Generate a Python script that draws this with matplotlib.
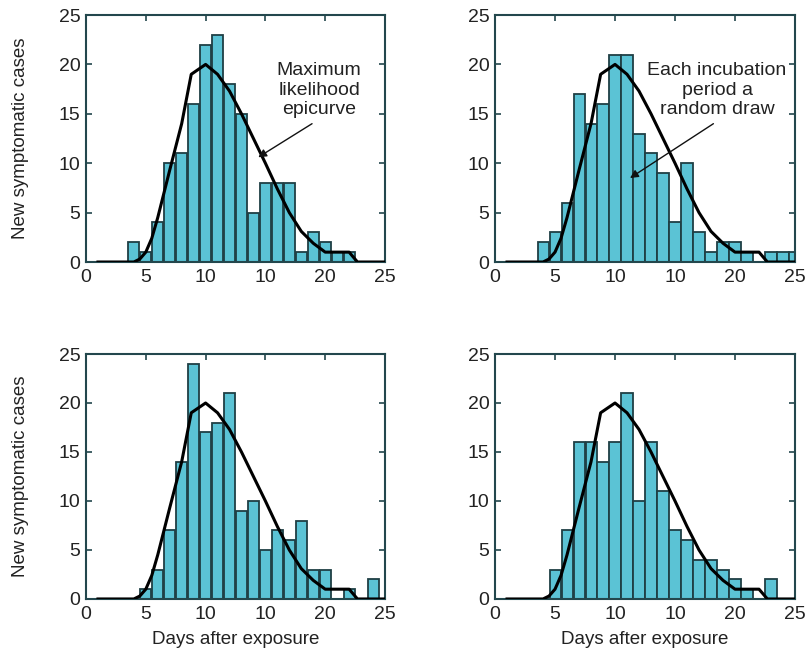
import numpy as np
import matplotlib
matplotlib.use("Agg")
import matplotlib.pyplot as plt

plt.rcParams['font.family'] = ['Liberation Sans', 'DejaVu Sans']

# DATOS
dias = list(range(1, 26))
# casos por dia (dias 1..25) en cada panel
casos_a = [0, 0, 0, 2, 1, 4, 10, 11, 16, 22, 23, 18, 15, 5, 8, 8, 8, 1, 3, 2, 1, 1, 0, 0, 0]
casos_b = [0, 0, 0, 2, 3, 6, 17, 14, 16, 21, 21, 13, 11, 9, 4, 10, 3, 1, 2, 2, 1, 0, 1, 1, 1]
casos_c = [0, 0, 0, 0, 1, 3, 7, 14, 24, 17, 18, 21, 9, 10, 5, 7, 6, 8, 3, 3, 0, 1, 0, 2, 0]
casos_d = [0, 0, 0, 0, 3, 7, 16, 16, 14, 16, 21, 10, 16, 11, 7, 6, 4, 4, 3, 2, 1, 0, 2, 0, 0]

# curva de maxima verosimilitud
curva_x = [1, 2, 3, 4, 4.5, 5, 5.5, 6, 7, 8, 8.8, 10, 11, 12, 13, 14, 15, 16, 17, 18, 19, 20, 21, 22, 22.7, 23, 24, 25]
curva_y = [0, 0, 0, 0, 0.3, 1, 2.4, 4.5, 9.3, 14, 19, 20, 19, 17.3, 15, 12.5, 10, 7.4, 5, 3.1, 1.9, 1, 1, 1, 0, 0, 0, 0]

xticks = [0, 5, 10, 15, 20, 25]
xticklabels = ['0', '5', '10', '10', '20', '25']
yticks = [0, 5, 10, 15, 20, 25]

color_barra = '#5bc3d5'
color_borde = '#1f3f44'
color_marco = '#23474d'
color_texto = '#222222'

fig = plt.figure(figsize=[8.09, 6.58], dpi=100)

posiciones = [
    [0.1063, 0.6018, 0.3696, 0.3754],
    [0.6119, 0.6018, 0.3708, 0.3754],
    [0.1063, 0.0897, 0.3696, 0.3723],
    [0.6119, 0.0897, 0.3708, 0.3723],
]
paneles = [casos_a, casos_b, casos_c, casos_d]

ejes = []
for k in range(4):
    ax = fig.add_axes(posiciones[k])
    ax.bar(dias, paneles[k], width=0.92, color=color_barra, edgecolor=color_borde, linewidth=1.3, zorder=2)
    ax.plot(curva_x, curva_y, color='black', linewidth=2.2, zorder=3)
    ax.set_xlim(0, 25)
    ax.set_ylim(0, 25)
    ax.set_xticks(xticks)
    ax.set_xticklabels(xticklabels)
    ax.set_yticks(yticks)
    ax.tick_params(direction='in', length=4, width=1.2, top=True, right=True,
                   labelsize=14, colors=color_marco, labelcolor=color_texto, pad=4)
    ax.tick_params(axis='x', pad=5)
    for s in ax.spines.values():
        s.set_color(color_marco)
        s.set_linewidth(1.5)
    if k % 2 == 0:
        ax.set_ylabel('New symptomatic cases', fontsize=13.5, color=color_texto)
        ax.yaxis.set_label_coords(-0.19, 0.5)
    if k >= 2:
        ax.set_xlabel('Days after exposure', fontsize=13.5, color=color_texto, labelpad=6)
    ejes.append(ax)

# anotaciones
ejes[0].text(19.5, 17.4, 'Maximum\nlikelihood\nepicurve', ha='center', va='center',
             fontsize=14, color=color_texto, linespacing=1.2)
ejes[0].annotate('', xy=(14.4, 10.6), xytext=(18.9, 14.0),
                 arrowprops=dict(arrowstyle='-|>', color='#111111', lw=1.0, shrinkA=0, shrinkB=0,
                                 mutation_scale=12))
ejes[1].text(18.5, 17.4, 'Each incubation\nperiod a\nrandom draw', ha='center', va='center',
             fontsize=14, color=color_texto, linespacing=1.2)
ejes[1].annotate('', xy=(11.25, 8.5), xytext=(18.2, 14.0),
                 arrowprops=dict(arrowstyle='-|>', color='#111111', lw=1.0, shrinkA=0, shrinkB=0,
                                 mutation_scale=12))

plt.savefig('out.png', dpi=100)
